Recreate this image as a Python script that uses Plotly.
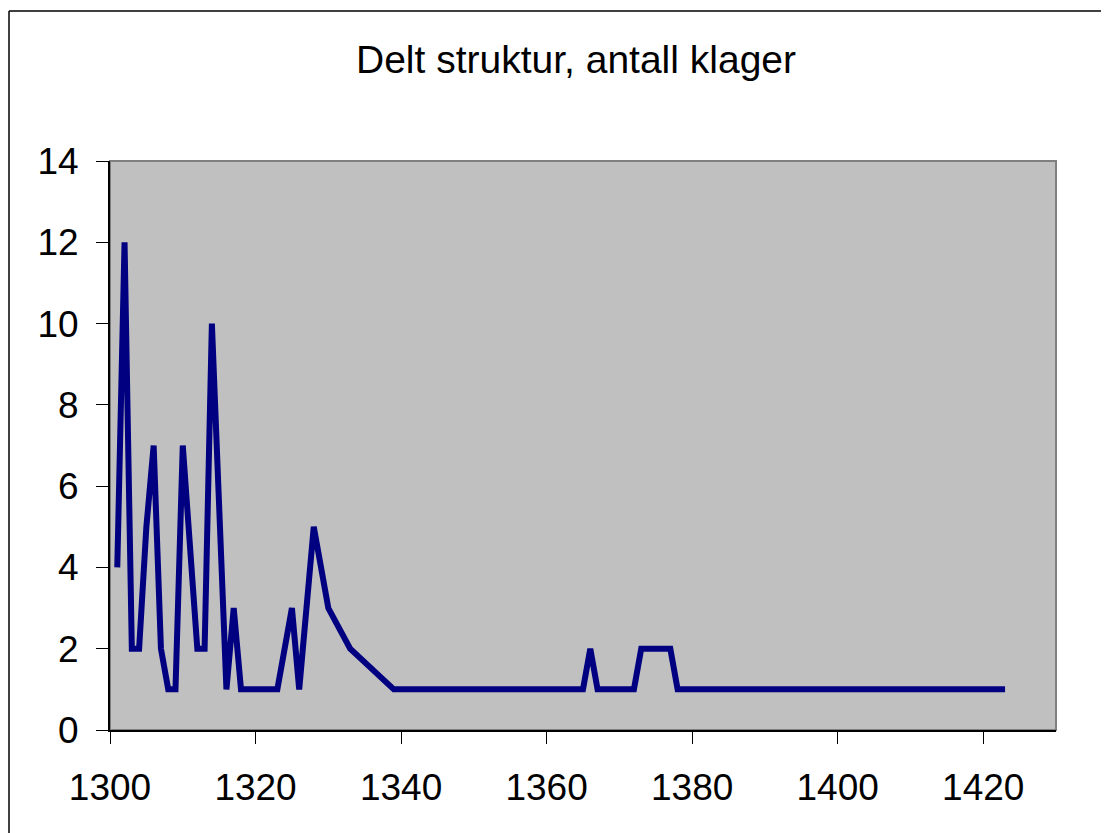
import plotly.graph_objects as go

# year vs number of complaints
years = [1301, 1302, 1303, 1304, 1305, 1306, 1307, 1308, 1309, 1310,
         1312, 1313, 1314, 1316, 1317, 1318, 1323, 1325, 1326, 1328,
         1330, 1333, 1339, 1365, 1366, 1367, 1372, 1373, 1377, 1378, 1423]
klager = [4, 12, 2, 2, 5, 7, 2, 1, 1, 7,
          2, 2, 10, 1, 3, 1, 1, 3, 1, 5,
          3, 2, 1, 1, 2, 1, 1, 2, 2, 1, 1]

x_ticks = [1300, 1320, 1340, 1360, 1380, 1400, 1420]
y_ticks = [0, 2, 4, 6, 8, 10, 12, 14]

# page body has an 8px margin, so the figure is drawn 8px smaller / shifted
OFF = 8
W, H = 1109 - OFF, 833 - OFF
L, R, T, B = 110 - OFF, 1056 - OFF, 161 - OFF, 730 - OFF
pw, ph = R - L, B - T

def px(x):
  return (x - OFF - L) / pw

def py(y):
  return (B - (y - OFF)) / ph

fnt = "Liberation Sans, Arial, sans-serif"

fig = go.Figure()
fig.add_trace(go.Scatter(x=years, y=klager, mode="lines",
                         line=dict(color="#000080", width=6),
                         showlegend=False))

fig.update_layout(
  width=W, height=H,
  margin=dict(l=L, r=W - R, t=T, b=H - B),
  paper_bgcolor="white",
  plot_bgcolor="#C0C0C0",
  font=dict(family=fnt, size=37, color="black"),
  title=dict(text="Delt struktur, antall klager", x=(576 - OFF) / W, xanchor="center",
             y=1 - (59 - OFF) / H, yanchor="middle", font=dict(size=39)),
)

fig.update_xaxes(range=[1300, 1430], tickvals=x_ticks, showgrid=False, zeroline=False,
                 showline=True, linecolor="black", linewidth=2,
                 ticks="outside", ticklen=12, tickcolor="black", tickwidth=1,
                 ticklabelstandoff=12)
fig.update_yaxes(range=[0, 14], tickvals=y_ticks, showgrid=False, zeroline=False,
                 showline=True, linecolor="black", linewidth=2,
                 ticks="outside", ticklen=12, tickcolor="black", tickwidth=1,
                 ticklabelstandoff=10)

# gray plot frame
fig.add_shape(type="rect", xref="paper", yref="paper", x0=0, x1=1, y0=0, y1=1,
              line=dict(color="#808080", width=2), layer="below")
# outer chart border (left and top edges are the only ones in view)
fig.add_shape(type="line", xref="paper", yref="paper",
              x0=px(9), x1=px(9), y0=py(845), y1=py(11),
              line=dict(color="black", width=1.5))
fig.add_shape(type="line", xref="paper", yref="paper",
              x0=px(9), x1=px(1120), y0=py(11), y1=py(11),
              line=dict(color="black", width=1.5))

fig.write_html("out.html")
